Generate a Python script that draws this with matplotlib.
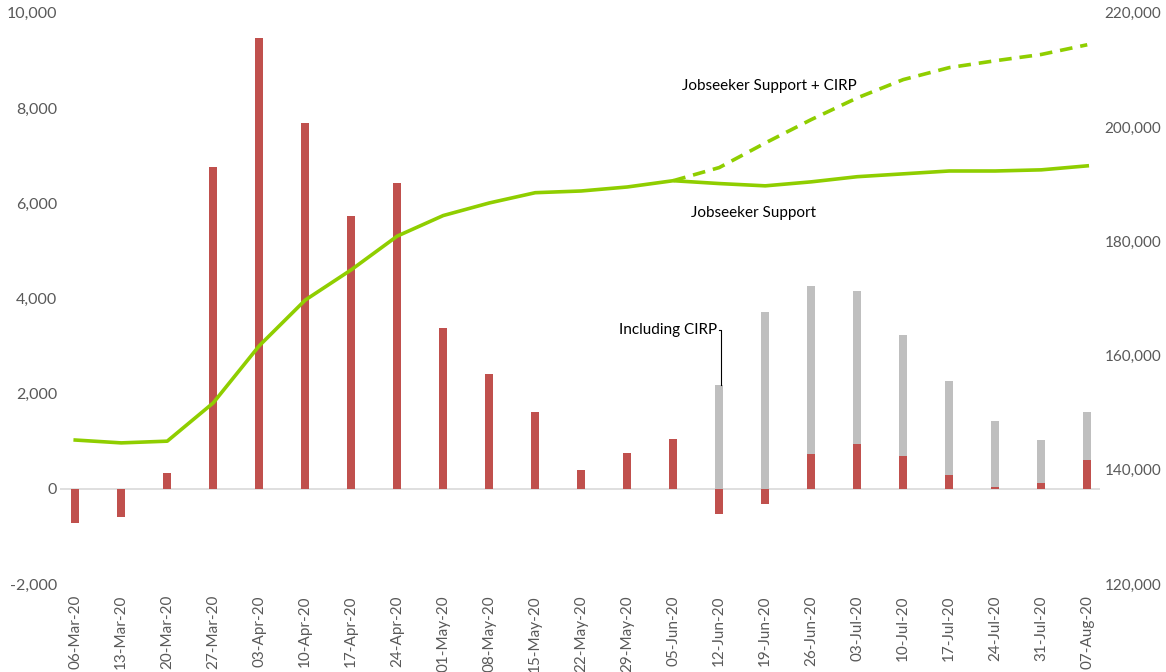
import numpy as np
import matplotlib.pyplot as plt
from matplotlib.ticker import FuncFormatter

plt.rcParams['font.family'] = ['Lato', 'DejaVu Sans']

weeks = ['06-Mar-20', '13-Mar-20', '20-Mar-20', '27-Mar-20', '03-Apr-20', '10-Apr-20',
         '17-Apr-20', '24-Apr-20', '01-May-20', '08-May-20', '15-May-20', '22-May-20',
         '29-May-20', '05-Jun-20', '12-Jun-20', '19-Jun-20', '26-Jun-20', '03-Jul-20',
         '10-Jul-20', '17-Jul-20', '24-Jul-20', '31-Jul-20', '07-Aug-20']

# weekly change in Jobseeker Support (left axis)
weekly_change = [-720, -590, 340, 6750, 9470, 7680, 5740, 6430, 3370, 2420, 1610, 390,
                 760, 1050, -525, -330, 735, 945, 693, 294, 40, 126, 609]
# weekly change including CIRP, from 12-Jun
change_incl_cirp = [2180, 3720, 4260, 4160, 3240, 2270, 1430, 1030, 1610]

# totals (right axis)
jobseeker = [145200, 144700, 145000, 151700, 161700, 169700, 175000, 180900, 184500,
             186700, 188500, 188800, 189500, 190600, 190100, 189700, 190400, 191300,
             191800, 192300, 192300, 192500, 193200]
jobseeker_cirp = [190600, 192900, 197200, 201300, 205100, 208300, 210400, 211600,
                  212700, 214400]

x = np.arange(len(weeks))
red = '#c0504d'
grey = '#bfbfbf'
green = '#8fce00'

fig = plt.figure(figsize=(11.66, 6.72), dpi=100)
ax = fig.add_axes([0.0515, 0.131, 0.892, 0.85])
ax2 = ax.twinx()
ax.set_zorder(ax2.get_zorder() - 1)
ax2.patch.set_visible(False)

w = 0.18
ax.bar(x[14:], change_incl_cirp, width=w, color=grey, zorder=2)
ax.bar(x, weekly_change, width=w, color=red, zorder=3)
ax.axhline(0, color='#d9d9d9', lw=1.2, zorder=1)

ax.set_xlim(-0.33, 22.28)
ax.set_ylim(-2000, 10000)
ax.set_yticks(range(-2000, 10001, 2000))
ax.yaxis.set_major_formatter(FuncFormatter(lambda v, p: f'{v:,.0f}'))
ax.set_xticks(x)
ax.set_xticklabels(weeks, rotation=90, fontsize=11, color='#595959')
ax.tick_params(axis='x', length=0, pad=8)
ax.tick_params(axis='y', length=0, labelsize=11.5, labelcolor='#595959', pad=2)

ax2.plot(x, jobseeker, color=green, lw=2.6, zorder=4)
ax2.plot(x[13:], jobseeker_cirp, color=green, lw=2.6, ls=(0, (3.5, 2.2)), zorder=4)
ax2.set_ylim(120000, 220000)
ax2.set_yticks(range(120000, 220001, 20000))
ax2.yaxis.set_major_formatter(FuncFormatter(lambda v, p: f'{v:,.0f}'))
ax2.tick_params(axis='y', length=0, labelsize=11, labelcolor='#595959', pad=3)

for a in (ax, ax2):
    for s in a.spines.values():
        s.set_visible(False)

ax2.text(15.1, 207200, 'Jobseeker Support + CIRP', fontsize=11, ha='center', va='center')
ax2.text(14.75, 185000, 'Jobseeker Support', fontsize=11, ha='center', va='center')
ax.text(13.95, 3340, 'Including CIRP', fontsize=11, ha='right', va='center')
ax.plot([13.99, 14.04, 14.04], [3340, 3340, change_incl_cirp[0]], color='black', lw=0.8)

fig.savefig('out.png', dpi=100)
